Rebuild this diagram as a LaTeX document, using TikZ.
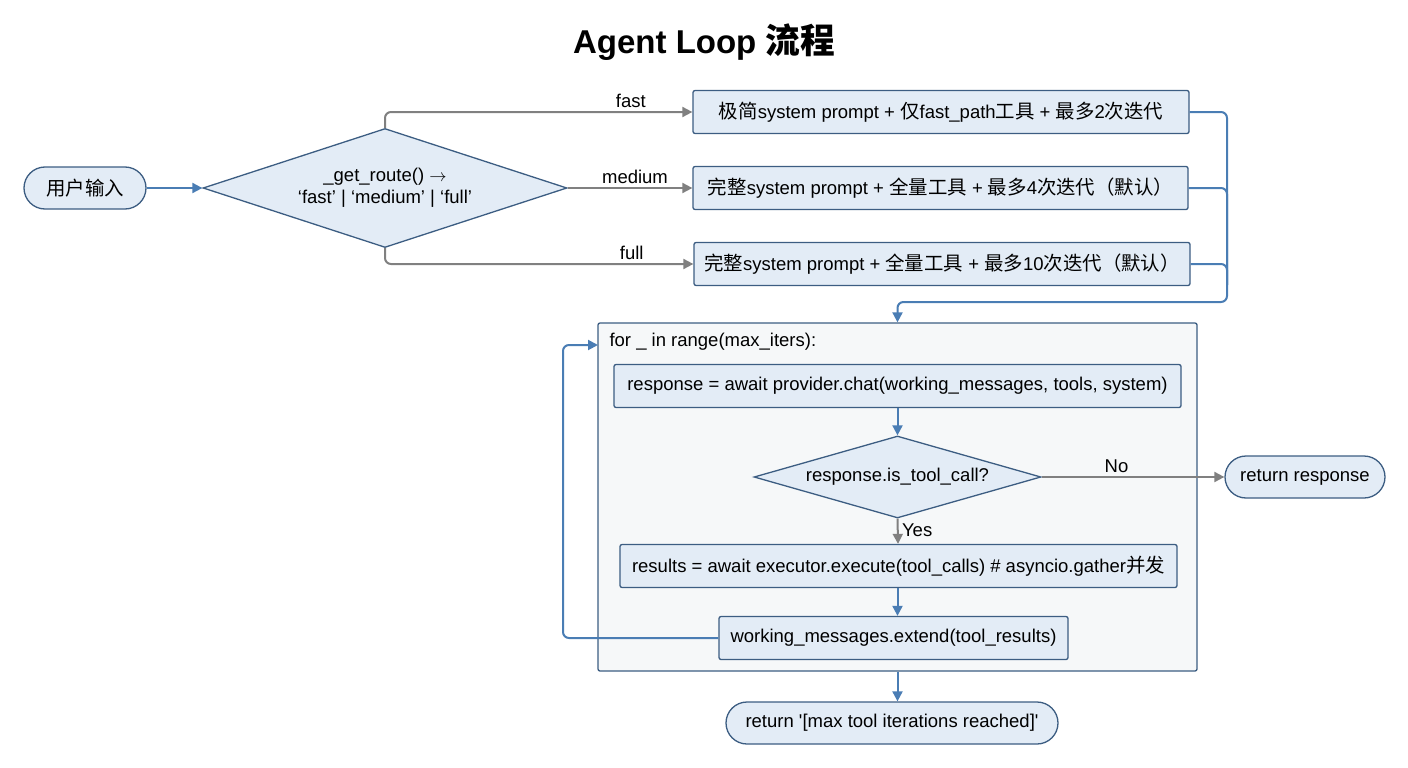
\documentclass[tikz,border=0pt]{standalone}
\usepackage{fontspec}
\setmainfont{Liberation Sans}
\newfontfamily\cjk[Scale=1.05]{Noto Sans CJK SC}
\usetikzlibrary{shapes.geometric,arrows.meta}
\definecolor{boxfill}{HTML}{E3ECF6}
\definecolor{boxline}{HTML}{3C5D82}
\definecolor{flowblue}{HTML}{4A7DB4}
\definecolor{flowgray}{HTML}{808080}
\definecolor{loopfill}{HTML}{F6F8F9}
\begin{document}
\begin{tikzpicture}[x=1pt,y=-1pt,font=\fontsize{18.5}{22}\selectfont,
box/.style={draw=boxline,fill=boxfill,line width=1.3pt,rounded corners=2pt,minimum height=43pt,inner sep=0pt},
pill/.style={box,rounded corners=21pt,minimum height=42pt},
choice/.style={draw=boxline,fill=boxfill,line width=1.3pt,diamond,inner sep=0pt,align=center},
blueline/.style={draw=flowblue,line width=2pt,rounded corners=6pt},
blueflow/.style={blueline,-{Triangle[length=10pt,width=10pt]}},
grayflow/.style={draw=flowgray,line width=2pt,rounded corners=6pt,-{Triangle[length=10pt,width=10pt]}}]
\useasboundingbox (0,0) rectangle (1408,768);
\node[font=\fontsize{33}{38}\selectfont\bfseries] (title) at (704,42) {Agent Loop {\cjk 流程}};
\node[pill,minimum width=122pt] (user) at (85,188) {{\cjk 用户输入}};
\node[choice,aspect=3.06,minimum width=364pt,minimum height=119pt] (route) at (385,188) {\_get\_route() $\rightarrow$\\‘fast’ | ‘medium’ | ‘full’};
\node[box,minimum width=496pt] (fast) at (941,112) {{\cjk 极简}system prompt + {\cjk 仅}fast\_path{\cjk 工具} + {\cjk 最多}2{\cjk 次迭代}};
\node[box,minimum width=495pt] (medium) at (940.5,188) {{\cjk 完整}system prompt + {\cjk 全量工具} + {\cjk 最多}4{\cjk 次迭代（默认）}};
\node[box,minimum width=496pt] (full) at (942,264) {{\cjk 完整}system prompt + {\cjk 全量工具} + {\cjk 最多}10{\cjk 次迭代（默认）}};
\node[draw=boxline,fill=loopfill,line width=1.3pt,rounded corners=2pt,minimum width=599pt,minimum height=348pt] (loop) at (897.5,497) {};
\node[anchor=west] (fortext) at (606,342) {for \_ in range(max\_iters):};
\node[box,minimum width=567pt] (resp) at (897.5,386) {response = await provider.chat(working\_messages, tools, system)};
\node[choice,aspect=3.5,minimum width=287pt,minimum height=82pt] (check) at (897.5,477) {response.is\_tool\_call?};
\node[pill,minimum width=160pt] (retresp) at (1305,477) {return response};
\node[box,minimum width=557pt] (results) at (898.5,566) {results = await executor.execute(tool\_calls) \# asyncio.gather{\cjk 并发}};
\node[box,minimum width=349pt] (working) at (893.5,638) {working\_messages.extend(tool\_results)};
\node[pill,minimum width=332pt] (retmax) at (892,723) {return \textquotesingle[max tool iterations reached]\textquotesingle};
\coordinate (merge) at (1227,302);
\coordinate (joint) at (1227,285);
\coordinate (back) at (563,345);
\coordinate (loopin) at (598,345);
\draw[blueflow] (user) -- (route);
\draw[grayflow] (route.north) |- node[above,pos=0.9] {fast} (fast);
\draw[grayflow] (route.east) -- node[above,pos=0.54] {medium} (medium);
\draw[grayflow] (route.south) |- node[above,pos=0.9] {full} (full);
\draw[blueflow] (fast.east) -| (merge) -| (loop.north);
\draw[blueline] (medium.east) -| (joint);
\draw[blueline] (full.east) -| (joint);
\draw[blueflow] (resp) -- (check);
\draw[grayflow] (check.east) -- node[above,pos=0.41] {No} (retresp);
\draw[grayflow] (check.south) -- node[right,pos=0.45] {Yes} (results);
\draw[blueflow] (results.south -| resp.south) -- (resp.south |- working.north);
\draw[blueflow] (working.west) -| (back) -- (loopin);
\draw[blueflow] (loop.south) -- (loop.south |- retmax.north);
\end{tikzpicture}
\end{document}
